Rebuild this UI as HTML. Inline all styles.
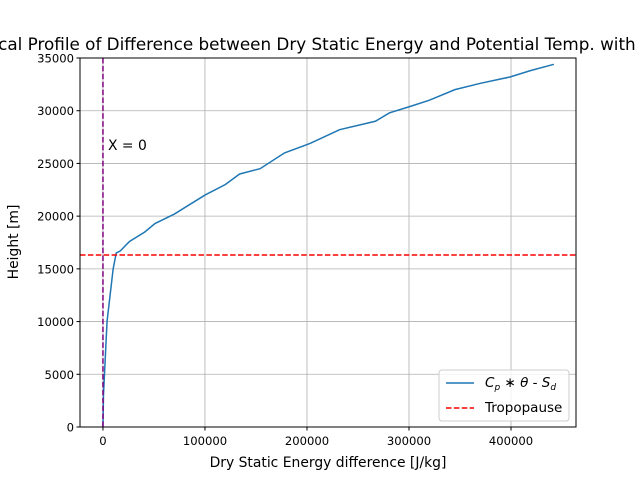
<!DOCTYPE html>
<html><head><meta charset="utf-8"><style>
body{margin:0;background:#fff;font-family:"Liberation Sans","DejaVu Sans",sans-serif}
svg{display:block}
text{font-family:"DejaVu Sans","Liberation Sans",sans-serif;fill:#000}
</style></head><body>
<svg id="chart" width="640" height="480" xmlns="http://www.w3.org/2000/svg">
<text x="328" y="50" font-size="16.8" text-anchor="middle">Vertical Profile of Difference between Dry Static Energy and Potential Temp. with Height</text>
<g id="grid"></g>
<g id="axes"></g>
<g id="series"></g>
<rect x="80" y="58" width="496" height="369" fill="none" stroke="#000" stroke-width="1"/>
<text x="328" y="467" font-size="13.9" text-anchor="middle">Dry Static Energy difference [J/kg]</text>
<text transform="translate(18,242) rotate(-90)" font-size="13.9" text-anchor="middle">Height [m]</text>
<text x="108" y="150" font-size="13.9">X = 0</text>
<g>
<rect x="439" y="370" width="130" height="51" rx="3" fill="#fff" fill-opacity="0.8" stroke="#ccc"/>
<line x1="446" y1="383" x2="474" y2="383" stroke="#1f77b4" stroke-width="1.5"/>
<text x="485" y="387" font-size="13.5"><tspan font-style="italic">C</tspan><tspan font-size="9" dy="3" font-style="italic">p</tspan><tspan dy="-3"> ∗ </tspan><tspan font-style="italic">θ</tspan><tspan> - </tspan><tspan font-style="italic">S</tspan><tspan font-size="9" dy="3" font-style="italic">d</tspan></text>
<line x1="446" y1="408" x2="474" y2="408" stroke="red" stroke-width="1.5" stroke-dasharray="5.5,2.4"/>
<text x="485" y="412" font-size="13.5">Tropopause</text>
</g>
</svg>
<script>
const xTicks=[0,100000,200000,300000,400000];
const yTicks=[0,5000,10000,15000,20000,25000,30000,35000];
const profileX=[0,500,1500,4000,10000,13000,17000,26000,41000,51000,70000,100000,120000,134000,154000,178000,203000,232000,267000,281000,301000,320000,345000,370000,399000,419000,442000];
const profileY=[0,3000,5000,10000,15000,16500,16700,17600,18500,19300,20200,22000,23000,24000,24500,26000,26900,28200,29000,29800,30400,31000,32000,32600,33200,33800,34400];
const tropopause=16315;
const L=80,R=576,T=58,B=427,xmin=-22500,xmax=463700,ymin=0,ymax=35000;
const sx=v=>L+(v-xmin)/(xmax-xmin)*(R-L);
const sy=v=>B-(v-ymin)/(ymax-ymin)*(B-T);
const NS="http://www.w3.org/2000/svg";
function mk(p,t,a){const e=document.createElementNS(NS,t);for(const k in a)e.setAttribute(k,a[k]);p.appendChild(e);return e;}
const g=document.getElementById('grid'),ax=document.getElementById('axes'),s=document.getElementById('series');
xTicks.forEach(v=>{const x=sx(v);
const l=mk(g,'line',{x1:x,x2:x,y1:T,y2:B,stroke:'#b0b0b0','stroke-width':0.8});


mk(ax,'line',{x1:x,x2:x,y1:B,y2:B+3.5,stroke:'#000'});
const t=mk(ax,'text',{x:x,y:B+18,'font-size':11.6,'text-anchor':'middle'});t.textContent=v;

});
yTicks.forEach(v=>{const y=sy(v);
const l=mk(g,'line',{x1:L,x2:R,y1:y,y2:y,stroke:'#b0b0b0','stroke-width':0.8});


mk(ax,'line',{x1:L-3.5,x2:L,y1:y,y2:y,stroke:'#000'});
const t=mk(ax,'text',{x:L-6,y:y+4.5,'font-size':11.6,'text-anchor':'end'});t.textContent=v;

});
const path=mk(s,'polyline',{points:profileX.map((v,i)=>sx(v)+','+sy(profileY[i])).join(' '),fill:'none',stroke:'#1f77b4','stroke-width':1.5});


const tp=mk(s,'line',{x1:L,x2:R,y1:sy(tropopause),y2:sy(tropopause),stroke:'red','stroke-width':1.5,'stroke-dasharray':'5.5,2.4'});


const z=mk(s,'line',{x1:sx(0),x2:sx(0),y1:T,y2:B,stroke:'#800080','stroke-width':1.5,'stroke-dasharray':'5.5,2.4'});


</script>
</body></html>
